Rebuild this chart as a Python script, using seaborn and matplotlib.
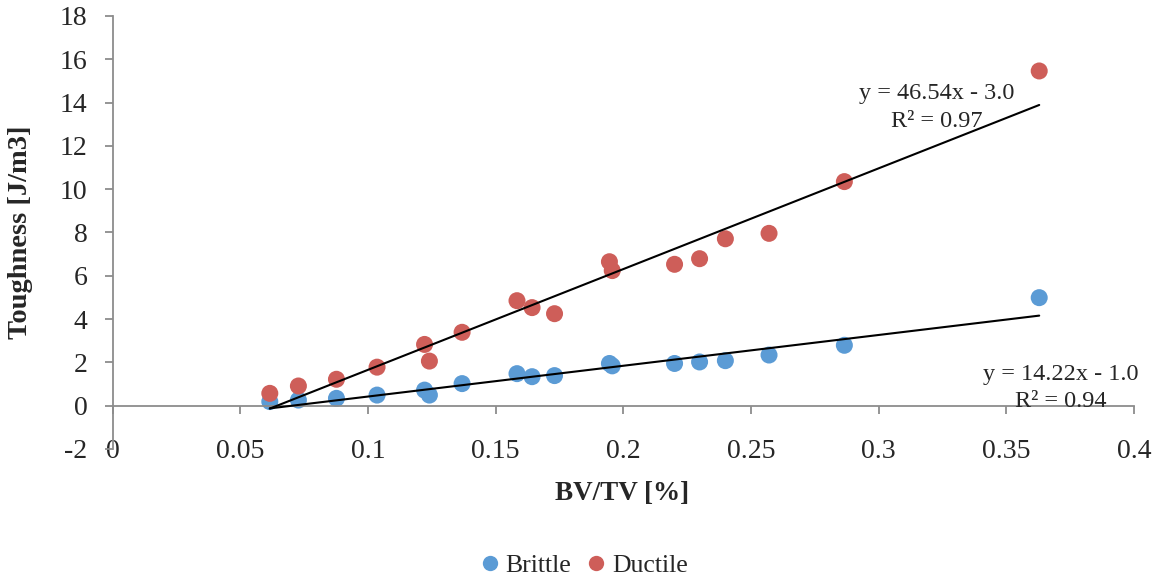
import numpy as np
import pandas as pd
import matplotlib
matplotlib.use("Agg")
import matplotlib.pyplot as plt
import seaborn as sns

# Bone volume fraction of each specimen
bv_tv = [0.0616, 0.0728, 0.0877, 0.1036, 0.1222, 0.1241, 0.1369, 0.1584, 0.1643,
         0.1731, 0.1946, 0.1957, 0.2201, 0.2299, 0.2400, 0.2571, 0.2866, 0.3629]
# Toughness per failure mode
brittle = [0.19, 0.26, 0.34, 0.49, 0.72, 0.49, 1.02, 1.48, 1.34,
           1.39, 1.95, 1.84, 1.95, 2.02, 2.08, 2.34, 2.79, 4.99]
ductile = [0.57, 0.91, 1.22, 1.78, 2.83, 2.06, 3.39, 4.85, 4.53,
           4.25, 6.65, 6.24, 6.53, 6.79, 7.71, 7.96, 10.35, 15.46]

# Linear trendlines (slope, intercept, R²)
fit_brittle = (14.22, -1.0, 0.94)
fit_ductile = (46.54, -3.0, 0.97)

series = ["Brittle", "Ductile"]
colors = {"Brittle": "#5B9BD5", "Ductile": "#CE5E59"}

x_ticks = [0, 0.05, 0.1, 0.15, 0.2, 0.25, 0.3, 0.35, 0.4]
x_tick_labels = ["0", "0.05", "0.1", "0.15", "0.2", "0.25", "0.3", "0.35", "0.4"]
y_ticks = list(range(-2, 19, 2))

sns.set_style("white")
plt.rcParams["font.family"] = ["Liberation Serif", "DejaVu Serif"]
plt.rcParams["axes.unicode_minus"] = False

df = pd.DataFrame({
    "BV/TV": bv_tv * 2,
    "Toughness": brittle + ductile,
    "Mode": ["Brittle"] * len(bv_tv) + ["Ductile"] * len(bv_tv),
})

fig = plt.figure(figsize=(11.61, 5.81), dpi=100)
ax = fig.add_axes([0.0969, 0.2272, 0.8798, 0.7453])

sns.scatterplot(data=df, x="BV/TV", y="Toughness", hue="Mode", hue_order=series,
                palette=colors, s=150, linewidth=0, ax=ax, zorder=2)

# Trendlines drawn across the sampled BV/TV range
x_rng = np.array([min(bv_tv), max(bv_tv)])
for slope, icpt, _ in (fit_brittle, fit_ductile):
    sns.lineplot(x=x_rng, y=slope * x_rng + icpt, color="black", linewidth=1.5,
                 ax=ax, zorder=3, legend=False)

eq_size = 17.5
ax.text(0.3229, 13.77, f"y = {fit_ductile[0]:.2f}x - {abs(fit_ductile[1]):.1f}\nR² = {fit_ductile[2]:.2f}",
        ha="center", va="center", fontsize=eq_size, linespacing=1.4, zorder=4)
ax.text(0.3714, 0.82, f"y = {fit_brittle[0]:.2f}x - {abs(fit_brittle[1]):.1f}\nR² = {fit_brittle[2]:.2f}",
        ha="center", va="center", fontsize=eq_size, linespacing=1.4, zorder=4)

ax.set_xlim(0, 0.4)
ax.set_ylim(-2, 18)
ax.set_xticks(x_ticks)
ax.set_xticklabels(x_tick_labels)
ax.set_yticks(y_ticks)

axis_grey = "#8C8C8C"
for side in ("top", "right"):
    ax.spines[side].set_visible(False)
ax.spines["left"].set_color(axis_grey)
ax.spines["left"].set_linewidth(1.3)
ax.spines["bottom"].set_position(("data", 0))
ax.spines["bottom"].set_color(axis_grey)
ax.spines["bottom"].set_linewidth(1.3)

ax.tick_params(axis="x", direction="out", length=6, width=1.3, color=axis_grey,
               pad=18, labelsize=20, bottom=True)
ax.tick_params(axis="y", direction="out", length=6, width=1.3, color=axis_grey,
               pad=12, labelsize=20, left=True)

ax.set_xlabel("BV/TV [%]", fontweight="bold", fontsize=19.5)
ax.set_ylabel("Toughness [J/m3]", fontweight="bold", fontsize=20.5)
ax.xaxis.set_label_coords(0.499, -0.074)
ax.yaxis.set_label_coords(-0.078, 0.5)

handles, labels = ax.get_legend_handles_labels()
ax.legend(handles=handles, labels=labels, loc="center", ncol=2,
          bbox_to_anchor=(0.502, 0.026), bbox_transform=fig.transFigure,
          frameon=False, fontsize=18.5, handlelength=0.9, handletextpad=0.15,
          columnspacing=0.55, markerscale=0.9, borderaxespad=0)

fig.savefig("out.png", dpi=100)
